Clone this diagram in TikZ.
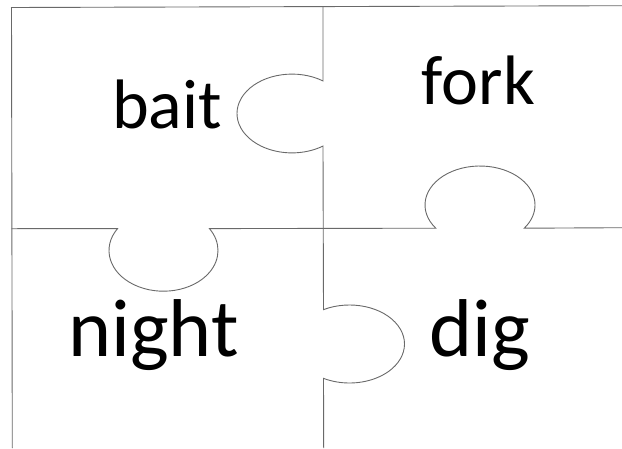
\documentclass[tikz,border=0pt]{standalone}
\usepackage{fontspec}
\setmainfont{Carlito}
\newfontfamily\wordfont{Carlito}
\begin{document}
\begin{tikzpicture}[x=1pt,y=1pt,
  cutline/.style={draw={rgb,255:red,105;green,105;blue,105},line width=0.9pt},
  word/.style={inner sep=0pt,anchor=base,font=\wordfont\fontsize{70}{80}\selectfont},
  bigword/.style={inner sep=0pt,anchor=base,font=\wordfont\fontsize{82}{90}\selectfont}]
\useasboundingbox (0,0) rectangle (622,-448);
% outer border
\draw[cutline] (11,-7.5) -- (622,-5.7);
\draw[cutline] (11.5,-7.5) -- (12.3,-448);
% vertical cut with two knobs
\draw[cutline] (323,-6.5) -- (323,-80.95)
  arc[start angle=55.69,end angle=304.31,x radius=55,y radius=39.4]
  -- (323.5,-309.63)
  arc[start angle=118.21,end angle=-118.21,x radius=55,y radius=39]
  -- (323.7,-448);
% horizontal cut with two knobs
\draw[cutline] (11.5,-228.7) -- (117.56,-228.6)
  arc[start angle=147.45,end angle=392.55,x radius=54.5,y radius=40.7]
  -- (435.79,-228.2)
  arc[start angle=216.5,end angle=-36.5,x radius=55,y radius=39]
  -- (622,-227.7);
% words
\node[word] (bait) at (167,-128) {bait};
\node[word] (fork) at (478.5,-104) {fork};
\node[bigword] (night) at (153.5,-356) {night};
\node[bigword] (dig) at (479.5,-356) {dig};
\end{tikzpicture}
\end{document}
